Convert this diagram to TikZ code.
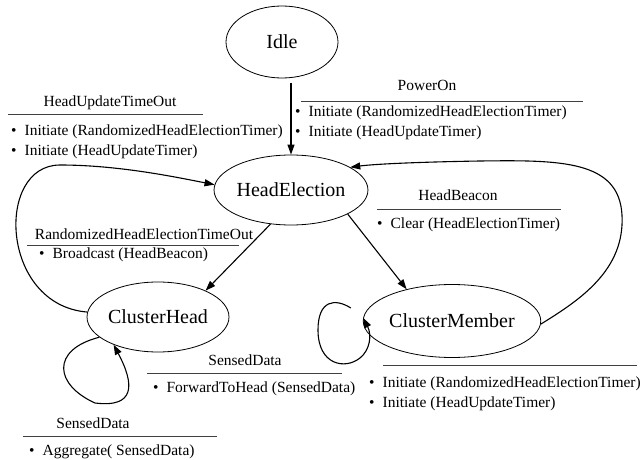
\documentclass[tikz,border=0pt]{standalone}
\usepackage{fontspec}
\setmainfont{Liberation Serif}
\usetikzlibrary{shapes.geometric, arrows.meta}

\begin{document}
\begin{tikzpicture}[x=1pt, y=-1pt,
        state/.style={ellipse, draw, line width=0.8pt, inner sep=0pt, font=\fontsize{20}{23}\selectfont},
        trans/.style={line width=1.1pt, -{Triangle[length=10pt, width=7pt]}},
        lbltitle/.style={inner sep=0pt, font=\fontsize{15.5}{18}\selectfont},
        lblitem/.style={inner sep=0pt, anchor=west, font=\fontsize{15.5}{18}\selectfont},
        lblrule/.style={line width=1pt, black!75}]
        \useasboundingbox (0,0) rectangle (641,460);

        \node[state, minimum width=112pt, minimum height=72pt] (Idle) at (282,42) {Idle};
        \node[state, minimum width=128pt, minimum height=70pt] (HE) at (291,190) {HeadElection};
        \node[state, minimum width=142pt, minimum height=70pt] (CH) at (158,317) {ClusterHead};
        \node[state, minimum width=141pt, minimum height=73pt] (CM) at (452,321) {ClusterMember};

        \coordinate (IdleOut) at ([yshift=-5pt]Idle.south);
        \draw[trans] (IdleOut -| HE.north) -- (HE.north);
        \draw[trans] (HE.239) -- (CH.29);
        \draw[trans] (HE.337) -- (CM.145);
        \draw[trans] (CH.176) .. controls (0,305) and (-5,165) .. (60,165)
            .. controls (120,165) and (180,178) .. (HE.176);
        \draw[trans] (CM.358) .. controls (580,300) and (625,270) .. (622,215)
            .. controls (619,160) and (560,160) .. (480,161)
            .. controls (420,162) and (375,164) .. (HE.21);
        \draw[trans] (CH.199) .. controls (50,350) and (55,385) .. (95,403)
            .. controls (135,408) and (135,385) .. (CH.212);
        \draw[trans] ([shift={(-12pt,13pt)}]CM.west) .. controls (335,298) and (318,300) .. (318,330)
            .. controls (318,365) and (345,370) .. (360,358)
            .. controls (370,350) and (372,335) .. (CM.178);

        \foreach \nm/\px/\py/\txt in {hutT/110/103/HeadUpdateTimeOut, ponT/427/85/PowerOn,
                hbcT/458/195/HeadBeacon, rheT/144/234/RandomizedHeadElectionTimeOut,
                sdfT/245/360/SensedData, sdaT/93/423/SensedData} {
            \node[lbltitle] (\nm) at (\px,\py) {\txt};
        }
        \foreach \xa/\xb/\py in {8/203/115, 301/583/102, 377/561/209, 27/239/245,
                147/342/373, 23/217/436, 383/637/365} {
            \draw[lblrule] (\xa,\py) -- (\xb,\py);
        }
        \foreach \nm/\px/\py/\txt in {
                hut1/11/132/{Initiate (RandomizedHeadElectionTimer)},
                hut2/11/152/{Initiate (HeadUpdateTimer)},
                pon1/295/113/{Initiate (RandomizedHeadElectionTimer)},
                pon2/295/133/{Initiate (HeadUpdateTimer)},
                hbc1/377/225/{Clear (HeadElectionTimer)},
                rhe1/39/255/{Broadcast (HeadBeacon)},
                sdf1/153/389/{ForwardToHead (SensedData)},
                sda1/29/452/{Aggregate( SensedData)},
                cmi1/369/384/{Initiate (RandomizedHeadElectionTimer)},
                cmi2/369/404/{Initiate (HeadUpdateTimer)}} {
            \node[lblitem] (\nm) at (\px,\py) {\textbullet\hspace{8pt}\txt};
        }
    \end{tikzpicture}
\end{document}
